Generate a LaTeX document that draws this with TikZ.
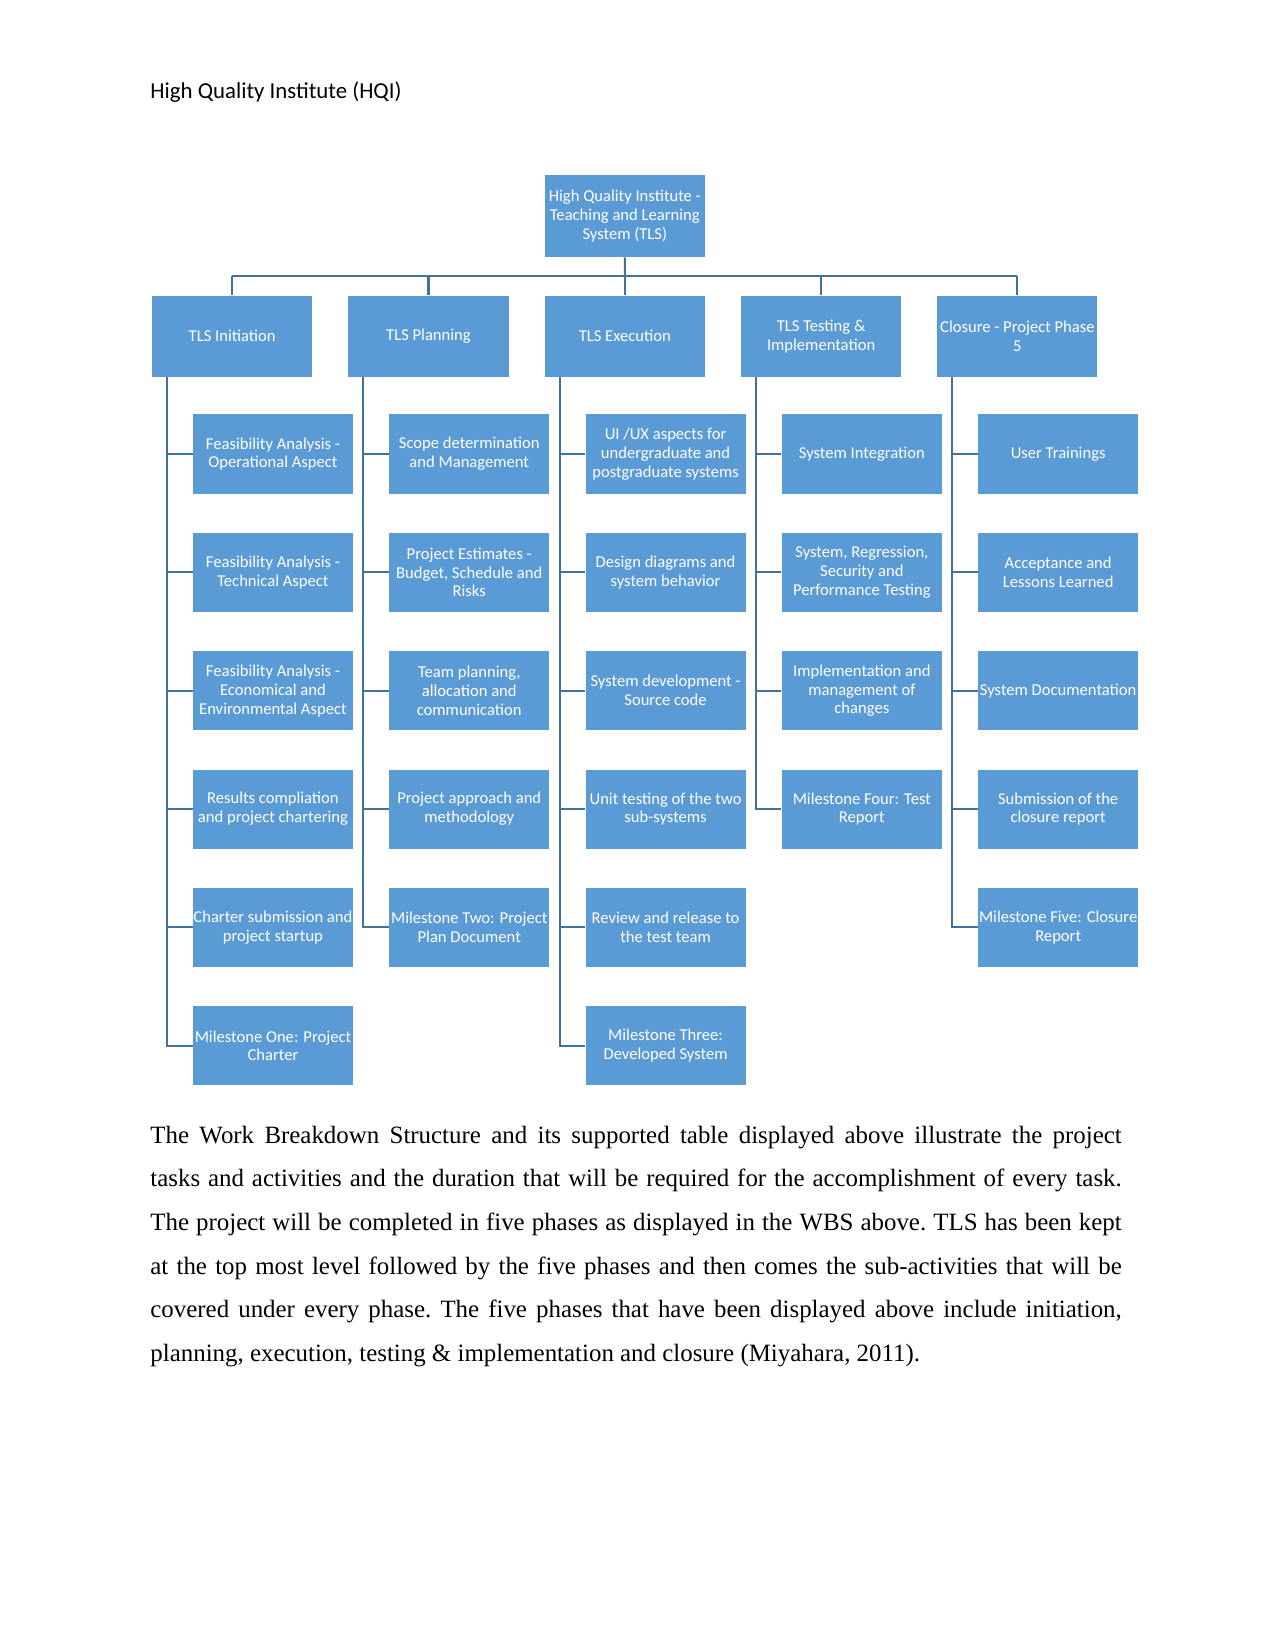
\documentclass[tikz,border=0pt]{standalone}
\usepackage{fontspec}
\setmainfont{Liberation Serif}
\newfontfamily\calibri{Carlito}
\usepackage{tikz}
\usetikzlibrary{positioning, calc}
\definecolor{boxblue}{RGB}{91,155,213}
\definecolor{linkblue}{RGB}{65,113,156}

\begin{document}
\begin{tikzpicture}[
  node distance=0.65cm,
  every node/.style={font=\calibri\fontsize{8}{9.1}\selectfont},
  wbs/.style={
    fill=boxblue, text=white,
    minimum width=2.71cm, minimum height=1.34cm,
    align=center, inner xsep=0pt, inner ysep=1pt
  },
  phase/.style={wbs, minimum height=1.38cm},
  link/.style={draw=linkblue, line width=1pt},
]
\useasboundingbox (0,0) rectangle (21.59,-27.94);

% Page heading
\node[anchor=base west, inner sep=0, font=\calibri\fontsize{11}{13}\selectfont] (heading) at (2.54,-1.66) {High Quality Institute (HQI)};

% Root
\node[phase] (root) at (10.58,-3.66) {High Quality Institute -\\Teaching and Learning\\System (TLS)};

% Phases
\node[phase, below=0.64cm of root] (exe) {TLS Execution};
\node[phase, left=0.6cm of exe] (pla) {TLS Planning};
\node[phase, left=0.6cm of pla] (ini) {TLS Initiation};
\node[phase, right=0.6cm of exe] (tst) {TLS Testing \&\\Implementation};
\node[phase, right=0.6cm of tst] (clo) {Closure - Project Phase\\5};

% Initiation tasks
\node[wbs, below=0.62cm of ini, xshift=0.69cm] (ini1) {Feasibility Analysis -\\Operational Aspect};
\node[wbs, below=of ini1] (ini2) {Feasibility Analysis -\\Technical Aspect};
\node[wbs, below=of ini2] (ini3) {Feasibility Analysis -\\Economical and\\Environmental Aspect};
\node[wbs, below=of ini3] (ini4) {Results compliation\\and project chartering};
\node[wbs, below=of ini4] (ini5) {Charter submission and\\project startup};
\node[wbs, below=of ini5] (ini6) {Milestone One: Project\\Charter};

% Planning tasks
\node[wbs, below=0.62cm of pla, xshift=0.69cm] (pla1) {Scope determination\\and Management};
\node[wbs, below=of pla1] (pla2) {Project Estimates -\\Budget, Schedule and\\Risks};
\node[wbs, below=of pla2] (pla3) {Team planning,\\allocation and\\communication};
\node[wbs, below=of pla3] (pla4) {Project approach and\\methodology};
\node[wbs, below=of pla4] (pla5) {Milestone Two: Project\\Plan Document};

% Execution tasks
\node[wbs, below=0.62cm of exe, xshift=0.69cm] (exe1) {UI /UX aspects for\\undergraduate and\\postgraduate systems};
\node[wbs, below=of exe1] (exe2) {Design diagrams and\\system behavior};
\node[wbs, below=of exe2] (exe3) {System development -\\Source code};
\node[wbs, below=of exe3] (exe4) {Unit testing of the two\\sub-systems};
\node[wbs, below=of exe4] (exe5) {Review and release to\\the test team};
\node[wbs, below=of exe5] (exe6) {Milestone Three:\\Developed System};

% Testing tasks
\node[wbs, below=0.62cm of tst, xshift=0.69cm] (tst1) {System Integration};
\node[wbs, below=of tst1] (tst2) {System, Regression,\\Security and\\Performance Testing};
\node[wbs, below=of tst2] (tst3) {Implementation and\\management of\\changes};
\node[wbs, below=of tst3] (tst4) {Milestone Four: Test\\Report};

% Closure tasks
\node[wbs, below=0.62cm of clo, xshift=0.69cm] (clo1) {User Trainings};
\node[wbs, below=of clo1] (clo2) {Acceptance and\\Lessons Learned};
\node[wbs, below=of clo2] (clo3) {System Documentation};
\node[wbs, below=of clo3] (clo4) {Submission of the\\closure report};
\node[wbs, below=of clo4] (clo5) {Milestone Five: Closure\\Report};

% Root to phases
\coordinate (bus) at ($(root.south)!0.5!(exe.north)$);
\draw[link] (root.south) -- (bus);
\draw[link] (bus -| ini.north) -- (bus -| clo.north);
\draw[link] (bus -| ini.north) -- (ini.north);
\draw[link] (bus -| pla.north) -- (pla.north);
\draw[link] (bus -| exe.north) -- (exe.north);
\draw[link] (bus -| tst.north) -- (tst.north);
\draw[link] (bus -| clo.north) -- (clo.north);

% Phase spines
\draw[link] ([xshift=0.26cm]ini.south west) |- (ini1.west);
\draw[link] ([xshift=0.26cm]ini.south west) |- (ini2.west);
\draw[link] ([xshift=0.26cm]ini.south west) |- (ini3.west);
\draw[link] ([xshift=0.26cm]ini.south west) |- (ini4.west);
\draw[link] ([xshift=0.26cm]ini.south west) |- (ini5.west);
\draw[link] ([xshift=0.26cm]ini.south west) |- (ini6.west);

\draw[link] ([xshift=0.26cm]pla.south west) |- (pla1.west);
\draw[link] ([xshift=0.26cm]pla.south west) |- (pla2.west);
\draw[link] ([xshift=0.26cm]pla.south west) |- (pla3.west);
\draw[link] ([xshift=0.26cm]pla.south west) |- (pla4.west);
\draw[link] ([xshift=0.26cm]pla.south west) |- (pla5.west);

\draw[link] ([xshift=0.26cm]exe.south west) |- (exe1.west);
\draw[link] ([xshift=0.26cm]exe.south west) |- (exe2.west);
\draw[link] ([xshift=0.26cm]exe.south west) |- (exe3.west);
\draw[link] ([xshift=0.26cm]exe.south west) |- (exe4.west);
\draw[link] ([xshift=0.26cm]exe.south west) |- (exe5.west);
\draw[link] ([xshift=0.26cm]exe.south west) |- (exe6.west);

\draw[link] ([xshift=0.26cm]tst.south west) |- (tst1.west);
\draw[link] ([xshift=0.26cm]tst.south west) |- (tst2.west);
\draw[link] ([xshift=0.26cm]tst.south west) |- (tst3.west);
\draw[link] ([xshift=0.26cm]tst.south west) |- (tst4.west);

\draw[link] ([xshift=0.26cm]clo.south west) |- (clo1.west);
\draw[link] ([xshift=0.26cm]clo.south west) |- (clo2.west);
\draw[link] ([xshift=0.26cm]clo.south west) |- (clo3.west);
\draw[link] ([xshift=0.26cm]clo.south west) |- (clo4.west);
\draw[link] ([xshift=0.26cm]clo.south west) |- (clo5.west);

% Body text under the chart
\node[anchor=base west, inner sep=0, text width=468pt, align=justify,
  font=\rmfamily\fontsize{12}{21}\selectfont] (body) at (2.54,-19.36) {%
  \frenchspacing\hyphenpenalty=10000\emergencystretch=3em
  The Work Breakdown Structure and its supported table displayed above illustrate the project\linebreak
  tasks and activities and the duration that will be required for the accomplishment of every task.\linebreak
  The project will be completed in five phases as displayed in the WBS above. TLS has been kept\linebreak
  at the top most level followed by the five phases and then comes the sub-activities that will be\linebreak
  covered under every phase. The five phases that have been displayed above include initiation,\linebreak
  planning, execution, testing \& implementation and closure (Miyahara, 2011).};

\end{tikzpicture}
\end{document}
